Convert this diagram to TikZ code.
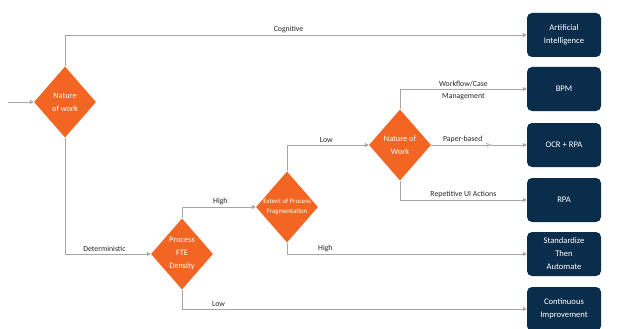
\documentclass[tikz,border=0pt]{standalone}
\usepackage{fontspec}
\setmainfont{Carlito}
\usetikzlibrary{shapes.geometric,arrows.meta,decorations.markings}

\definecolor{decorange}{HTML}{F26522}
\definecolor{outnavy}{HTML}{0B2D4C}
\definecolor{linegray}{HTML}{A6A6A6}

\tikzset{
    decision/.style={diamond, aspect=0.87, fill=decorange, text=white, inner sep=0pt,
        minimum width=62pt, minimum height=71pt, align=center, font=\fontsize{8.3}{13}\selectfont},
    outcome/.style={rectangle, rounded corners=5pt, fill=outnavy, text=white, align=center,
        minimum width=74pt, minimum height=44pt, font=\fontsize{8.6}{13}\selectfont},
    flow/.style={draw=linegray, line width=0.9pt, -{Triangle[length=4pt,width=4pt]}},
    lbl/.style={font=\fontsize{7.8}{12}\selectfont, text=black!85, inner sep=1.5pt, align=center}
}

\begin{document}
\begin{tikzpicture}[x=1pt, y=-1pt]
            \useasboundingbox (0,0) rectangle (624,329);

            \node[decision] (work) at (65,102) {Nature\\of work};
            \node[decision] (fte) at (182,254) {Process\\FTE\\Density};
            \node[decision, font=\fontsize{6.8}{10}\selectfont] (frag) at (287,207) {Extent of Process\\Fragmentation};
            \node[decision] (kind) at (400,145) {Nature of\\Work};

            \node[outcome] (ai) at (564,35) {Artificial\\Intelligence};
            \node[outcome] (bpm) at (564,89) {BPM};
            \node[outcome] (ocr) at (564,145) {OCR + RPA};
            \node[outcome] (rpa) at (564,200) {RPA};
            \node[outcome] (std) at (564,254) {Standardize\\Then\\Automate};
            \node[outcome] (ci) at (564,309) {Continuous\\Improvement};

            \coordinate (start) at (8,102);
            \draw[flow] (start) -- (work.west);

            \draw[flow] (work.north) |- node[lbl, above, pos=0.742] {Cognitive} (ai.west);
            \draw[flow] (work.south) |- node[lbl, above, pos=0.73] {Deterministic} (fte.west);

            \draw[flow] (fte.north) |- node[lbl, above, pos=0.76] {High} (frag.west);
            \draw[flow] (fte.south) |- node[lbl, above, pos=0.553] {Low} (ci.west);

            \draw[flow] (frag.north) |- node[lbl, above, pos=0.74] {Low} (kind.west);
            \draw[flow] (frag.south) |- node[lbl, above, pos=0.58] {High} (std.west);

            \draw[flow] (kind.north) |- node[lbl, pos=0.75, yshift=-1.5pt] {Workflow/Case\\Management} (bpm.west);
            \draw[flow, postaction={decorate}, decoration={markings,
                mark=at position 0.64 with {\arrow[linegray!70]{Stealth[length=7pt,width=5pt]}}}]
                (kind.east) -- node[lbl, above, pos=0.33] {Paper-based} (ocr.west);
            \draw[flow] (kind.south) |- node[lbl, above, pos=0.75] {Repetitive UI Actions} (rpa.west);
        \end{tikzpicture}
\end{document}
